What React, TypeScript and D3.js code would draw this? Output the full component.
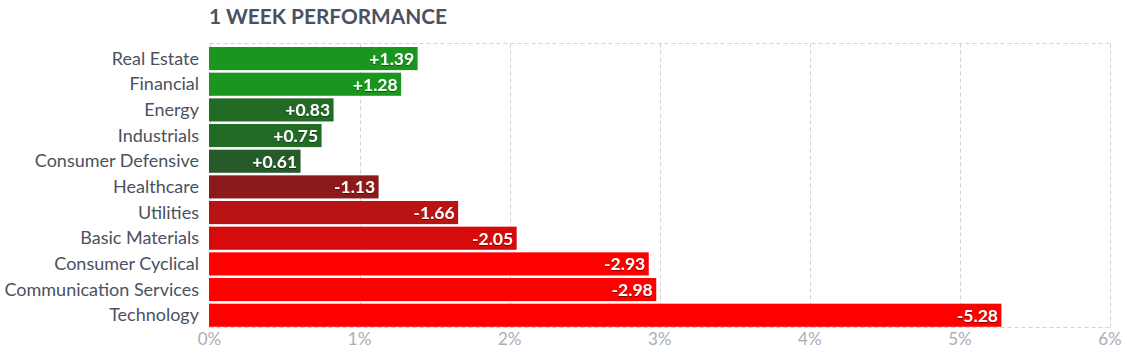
import React from "react";
import * as d3 from "d3";

const categories = [
  "Real Estate",
  "Financial",
  "Energy",
  "Industrials",
  "Consumer Defensive",
  "Healthcare",
  "Utilities",
  "Basic Materials",
  "Consumer Cyclical",
  "Communication Services",
  "Technology",
];
const values = [1.39, 1.28, 0.83, 0.75, 0.61, -1.13, -1.66, -2.05, -2.93, -2.98, -5.28];
const barColors = [
  "#1a961f",
  "#1a961f",
  "#226b24",
  "#226b24",
  "#265a28",
  "#8c1a1b",
  "#b91314",
  "#d60b0b",
  "#ff0000",
  "#ff0000",
  "#ff0000",
];
const ticks = [0, 1, 2, 3, 4, 5, 6];

const W = 1127;
const H = 356;
const left = 209.5;
const right = 1110;
const top = 43.5;
const bottom = 327.5;

export default function App() {
  const x = d3.scaleLinear().domain([0, 6]).range([left, right]);
  const y = d3
    .scaleBand<string>()
    .domain(categories)
    .range([46.5, 327.3])
    .paddingInner(0.1)
    .paddingOuter(0.02);
  const font = "Lato, 'Open Sans', sans-serif";
  const grid = "#d2d2d2";
  return (
    <div style={{ position: "absolute", left: 0, top: 0 }}>
      <svg width={W} height={H} style={{ display: "block" }}>
        <defs>
          <filter id="ts" x="-20%" y="-30%" width="140%" height="160%">
            <feDropShadow dx="0" dy="1" stdDeviation="0.6" floodColor="#000" floodOpacity="0.45" />
          </filter>
        </defs>
        <text x={209} y={24} fontFamily={font} fontWeight={700} fontSize={20.8} fill="#4b5161">
          1 WEEK PERFORMANCE
        </text>
        {/* grid */}
        <line x1={left} x2={right} y1={top} y2={top} stroke={grid} strokeDasharray="4,3" />
        <line x1={left} x2={right} y1={bottom} y2={bottom} stroke={grid} strokeDasharray="4,3" />
        {ticks.map((t) => (
          <line
            key={"g" + t}
            x1={Math.round(x(t)) + 0.5}
            x2={Math.round(x(t)) + 0.5}
            y1={top}
            y2={bottom}
            stroke={grid}
            strokeDasharray="4,3"
          />
        ))}
        {/* bars */}
        {categories.map((c, i) => {
          const v = values[i];
          const by = y(c)!;
          const bw = x(Math.abs(v)) - x(0);
          return (
            <g key={c}>
              <rect x={x(0) - 0.5} y={by} width={bw} height={y.bandwidth()} fill={barColors[i]} />
              <text
                x={x(Math.abs(v)) - 4}
                y={by + y.bandwidth() / 2}
                dy="0.36em"
                textAnchor="end"
                fontFamily={font}
                fontWeight={700}
                fontSize={17.5}
                fill="#fff"
                filter="url(#ts)"
              >
                {(v > 0 ? "+" : "") + v.toFixed(2)}
              </text>
              <text
                x={199}
                y={by + y.bandwidth() / 2}
                dy="0.34em"
                textAnchor="end"
                fontFamily={font}
                fontSize={18}
                fill="#4b5161"
              >
                {c}
              </text>
            </g>
          );
        })}
        {/* tick labels */}
        {ticks.map((t) => (
          <text
            key={"t" + t}
            x={x(t)}
            y={345}
            textAnchor="middle"
            fontFamily={font}
            fontSize={17}
            fill="#a9aeb8"
          >
            {t + "%"}
          </text>
        ))}
      </svg>
    </div>
  );
}
